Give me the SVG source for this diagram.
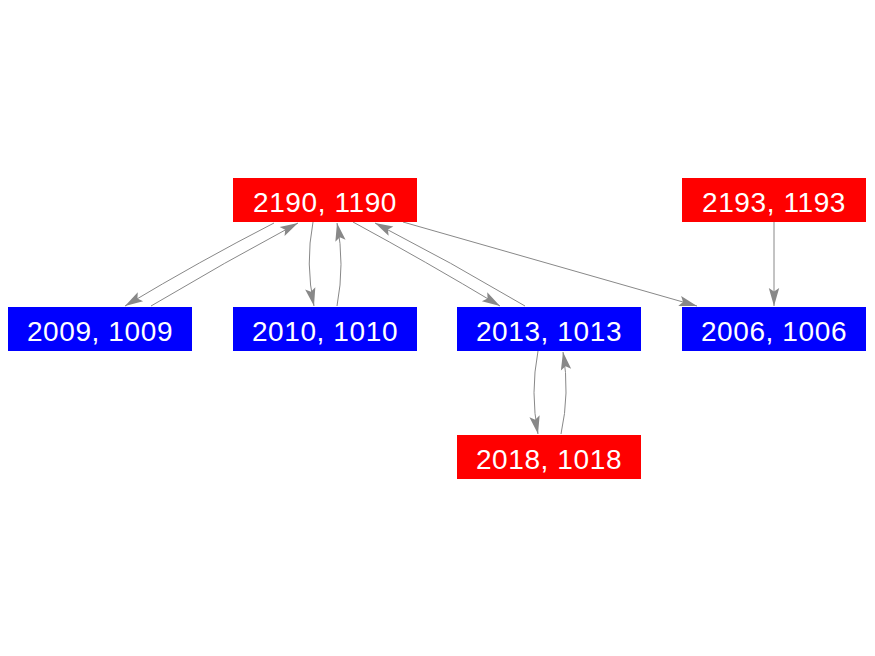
<svg xmlns="http://www.w3.org/2000/svg" width="875" height="656" viewBox="0 0 875 656">
<style>
.red{fill:#ff0000}
.blue{fill:#0000ff}
.lbl{fill:#ffffff;font-family:"Liberation Sans",Arial,sans-serif;font-size:28px;letter-spacing:0.6px;text-anchor:middle}
.e{fill:none;stroke:#888888;stroke-width:1}
</style>
<defs>
<marker id="ah" markerUnits="userSpaceOnUse" markerWidth="24" markerHeight="14" viewBox="-19 -7 20 14" refX="0" refY="0" orient="auto">
<path d="M0,0 L-18,-5.2 L-14.5,0 L-18,5.2 Z" fill="#888888"/>
</marker>
</defs>
<rect width="875" height="656" fill="#ffffff"/>
<g id="edges">
<path class="e" d="M274,223 Q200,261 125,306" marker-end="url(#ah)"/>
<path class="e" d="M151,306 Q225,262 298,223" marker-end="url(#ah)"/>
<path class="e" d="M313,222 Q305,264 314,306" marker-end="url(#ah)"/>
<path class="e" d="M337,306 Q345,264 337,223" marker-end="url(#ah)"/>
<path class="e" d="M353,222 Q425,261 500,306" marker-end="url(#ah)"/>
<path class="e" d="M525,306 Q451,262 375,223" marker-end="url(#ah)"/>
<path class="e" d="M403,222 L697,306" marker-end="url(#ah)"/>
<path class="e" d="M774,222 L774,306" marker-end="url(#ah)"/>
<path class="e" d="M538,351 Q530,393 538,434" marker-end="url(#ah)"/>
<path class="e" d="M561,434 Q570,393 563,352" marker-end="url(#ah)"/>
</g>
<g id="n2190"><rect class="red" x="233" y="178" width="184" height="44"/><text class="lbl" x="325" y="212">2190, 1190</text></g>
<g id="n2193"><rect class="red" x="682" y="178" width="184" height="44"/><text class="lbl" x="774" y="212">2193, 1193</text></g>
<g id="n2009"><rect class="blue" x="8" y="307" width="184" height="44"/><text class="lbl" x="100" y="341">2009, 1009</text></g>
<g id="n2010"><rect class="blue" x="233" y="307" width="184" height="44"/><text class="lbl" x="325" y="341">2010, 1010</text></g>
<g id="n2013"><rect class="blue" x="457" y="307" width="184" height="44"/><text class="lbl" x="549" y="341">2013, 1013</text></g>
<g id="n2006"><rect class="blue" x="682" y="307" width="184" height="44"/><text class="lbl" x="774" y="341">2006, 1006</text></g>
<g id="n2018"><rect class="red" x="457" y="435" width="184" height="44"/><text class="lbl" x="549" y="469">2018, 1018</text></g>
</svg>
